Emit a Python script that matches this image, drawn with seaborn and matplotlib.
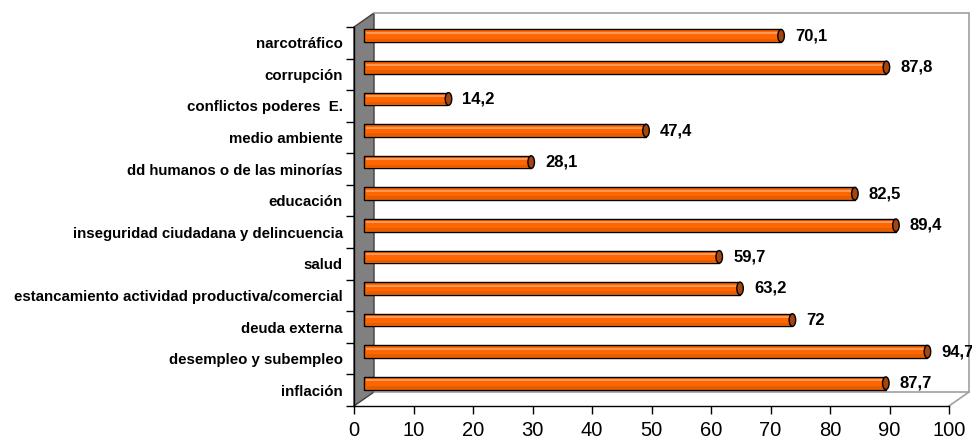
import numpy as np
import pandas as pd
import seaborn as sns
import matplotlib.pyplot as plt
from matplotlib.patches import Polygon, Ellipse
from matplotlib.lines import Line2D
from matplotlib.transforms import ScaledTranslation

categories = [
    "narcotráfico",
    "corrupción",
    "conflictos poderes  E.",
    "medio ambiente",
    "dd humanos o de las minorías",
    "educación",
    "inseguridad ciudadana y delincuencia",
    "salud",
    "estancamiento actividad productiva/comercial",
    "deuda externa",
    "desempleo y subempleo",
    "inflación",
]
values = [70.1, 87.8, 14.2, 47.4, 28.1, 82.5, 89.4, 59.7, 63.2, 72.0, 94.7, 87.7]
xticks = [0, 10, 20, 30, 40, 50, 60, 70, 80, 90, 100]

sns.set_theme(style="white")
plt.rcParams["font.family"] = ["Liberation Sans", "DejaVu Sans"]
plt.rcParams["text.color"] = "black"
plt.rcParams["xtick.color"] = "black"
plt.rcParams["ytick.color"] = "black"

W, H = 972, 444
fig = plt.figure(figsize=(W / 100, H / 100), dpi=100)
fig.patch.set_facecolor("white")


def fx(x):
    return x / W


def fy(y):
    return 1 - y / H


# front plane of the axes
x0, x1, ytop, ybot = 354, 949, 27, 406
dx, dy = 20, 14  # depth of the 3D box
ax = fig.add_axes([fx(x0), fy(ybot), (x1 - x0) / W, (ybot - ytop) / H])
ax.patch.set_visible(False)

# 3D decorations (walls / floor) in figure pixel coordinates
wall = Polygon([(fx(x0), fy(ytop)), (fx(x0 + dx), fy(ytop - dy)),
                (fx(x0 + dx), fy(ybot - dy)), (fx(x0), fy(ybot))],
               closed=True, facecolor="#808080", edgecolor="#404040",
               linewidth=1, transform=fig.transFigure, zorder=-1)
fig.add_artist(wall)
gray = "#A0A0A0"
for (xa, ya), (xb, yb) in [((x0 + dx, ytop - dy), (x1 + dx, ytop - dy)),
                           ((x1 + dx, ytop - dy), (x1 + dx, ybot - dy)),
                           ((x0 + dx, ybot - dy), (x1 + dx, ybot - dy)),
                           ((x1 + dx, ybot - dy), (x1, ybot))]:
    fig.add_artist(Line2D([fx(xa), fx(xb)], [fy(ya), fy(yb)], color=gray,
                          linewidth=1.2, transform=fig.transFigure, zorder=-1))

df = pd.DataFrame({"categoria": categories, "valor": values})
sns.barplot(data=df, x="valor", y="categoria", orient="h", color="#FF6600",
            saturation=1, width=0.4, edgecolor="black", linewidth=1, ax=ax)

# shift bars to mid-depth
offset = ax.transData + ScaledTranslation(10 / 100, 7 / 100, fig.dpi_scale_trans)
for p in ax.patches:
    p.set_transform(offset)
    p.set_clip_on(False)

for i, v in enumerate(values):
    # highlight and shade stripes
    ax.plot([0.4, v - 0.4], [i - 0.09, i - 0.09], color="#FF9A5C", lw=1.4,
            transform=offset, clip_on=False, solid_capstyle="butt", zorder=3)
    ax.plot([0.4, v - 0.4], [i + 0.12, i + 0.12], color="#E65C00", lw=2.0,
            transform=offset, clip_on=False, solid_capstyle="butt", zorder=3)
    # end cap
    cap = Ellipse((v, i), width=1.1, height=0.4, facecolor="#A4440F",
                  edgecolor="black", linewidth=1, transform=offset,
                  clip_on=False, zorder=4)
    ax.add_patch(cap)
    # value label
    lbl = f"{v:g}".replace(".", ",")
    ax.annotate(lbl, (v, i), xytext=(24, 7), textcoords="offset pixels",
                ha="left", va="center", fontsize=12, fontweight="bold",
                color="black", annotation_clip=False)

ax.set_xlim(0, 100)
ax.set_ylim(len(categories) - 0.5, -0.5)
ax.set_xticks(xticks)
ax.set_xticklabels([str(t) for t in xticks], fontsize=14.5, color="black")
ax.set_yticks(range(len(categories)))
ax.set_yticklabels(categories, fontsize=10.8, fontweight="bold", color="black")
ax.set_yticks(np.arange(-0.5, len(categories), 1), minor=True)
ax.tick_params(axis="y", which="major", length=0, pad=8)
ax.tick_params(axis="y", which="minor", length=6, width=1, color="black",
               direction="out", left=True)
ax.tick_params(axis="x", which="major", length=6, width=1, color="black",
               direction="out", bottom=True, pad=5)
ax.set_xlabel("")
ax.set_ylabel("")
for s in ["top", "right"]:
    ax.spines[s].set_visible(False)
for s in ["left", "bottom"]:
    ax.spines[s].set_color("black")
    ax.spines[s].set_linewidth(1)
ax.grid(False)

fig.savefig("out.png", dpi=100)
